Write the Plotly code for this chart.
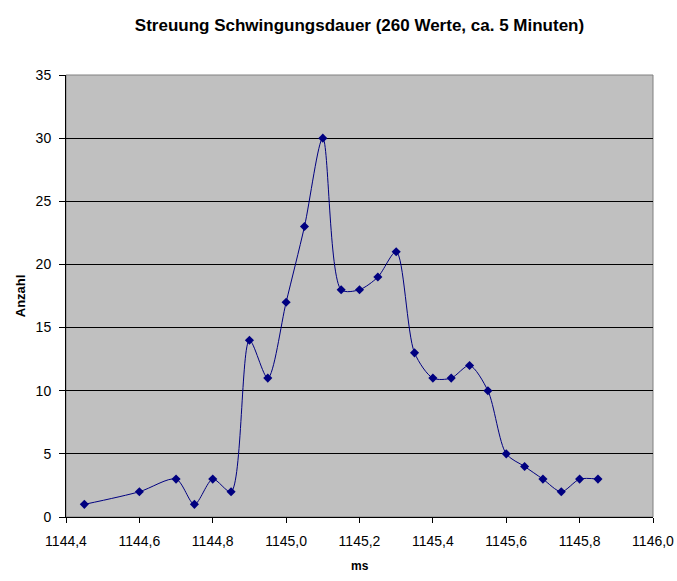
import plotly.graph_objects as go

# Schwingungsdauer in ms und Anzahl der Messwerte
ms = [1144.45, 1144.60, 1144.70, 1144.75, 1144.80, 1144.85, 1144.90, 1144.95,
      1145.00, 1145.05, 1145.10, 1145.15, 1145.20, 1145.25, 1145.30, 1145.35,
      1145.40, 1145.45, 1145.50, 1145.55, 1145.60, 1145.65, 1145.70, 1145.75,
      1145.80, 1145.85]
anzahl = [1, 2, 3, 1, 3, 2, 14, 11, 17, 23, 30, 18, 18, 19, 21, 13,
          11, 11, 12, 10, 5, 4, 3, 2, 3, 3]

fig = go.Figure()
fig.add_trace(go.Scatter(
    x=ms, y=anzahl,
    mode="lines+markers",
    line=dict(color="#000080", width=1, shape="spline", smoothing=0.8),
    marker=dict(symbol="diamond", size=7, color="#000080"),
    showlegend=False,
))

# grauer Rahmen um die Zeichnungsfläche
fig.add_shape(type="rect", xref="x domain", yref="y domain",
              x0=0, x1=1, y0=0, y1=1,
              line=dict(color="#808080", width=1), layer="below")

# Achsentitel als Annotationen
fig.add_annotation(text="<b>ms</b>", xref="paper", yref="paper",
                   x=0.5, y=-0.11, yanchor="middle", showarrow=False,
                   font=dict(size=12))
fig.add_annotation(text="<b>Anzahl</b>", xref="paper", yref="paper",
                   x=-0.078, y=0.5, xanchor="center", textangle=-90,
                   showarrow=False, font=dict(size=13))

fig.update_layout(
    width=677, height=581,
    margin=dict(l=66, r=24, t=75, b=64),
    paper_bgcolor="white",
    plot_bgcolor="#C0C0C0",
    separators=",.",
    font=dict(family="Liberation Sans, Arial", size=12, color="black"),
    title=dict(text="<b>Streuung Schwingungsdauer (260 Werte, ca. 5 Minuten)</b>",
               x=0.5, xref="paper", y=0.957, yanchor="middle",
               font=dict(size=17)),
)

fig.update_xaxes(
    range=[1144.4, 1146.0], dtick=0.2, tick0=1144.4, tickformat=".1f",
    showgrid=False, zeroline=False, automargin=False,
    showline=True, linecolor="black", linewidth=1,
    ticks="outside", ticklen=5, tickcolor="black",
    tickfont=dict(size=14), ticklabelstandoff=6,
)
fig.update_yaxes(
    range=[0, 35], dtick=5,
    showgrid=True, gridcolor="black", gridwidth=1, zeroline=False,
    automargin=False,
    showline=True, linecolor="black", linewidth=1,
    ticks="outside", ticklen=6, tickcolor="black",
    tickfont=dict(size=14), ticklabelstandoff=5,
)

# Seitenrand entfernen, damit die Grafik genau ins Fenster passt
fig.write_html("out.html", config={"displayModeBar": False},
               post_script="document.body.style.margin='0';")
